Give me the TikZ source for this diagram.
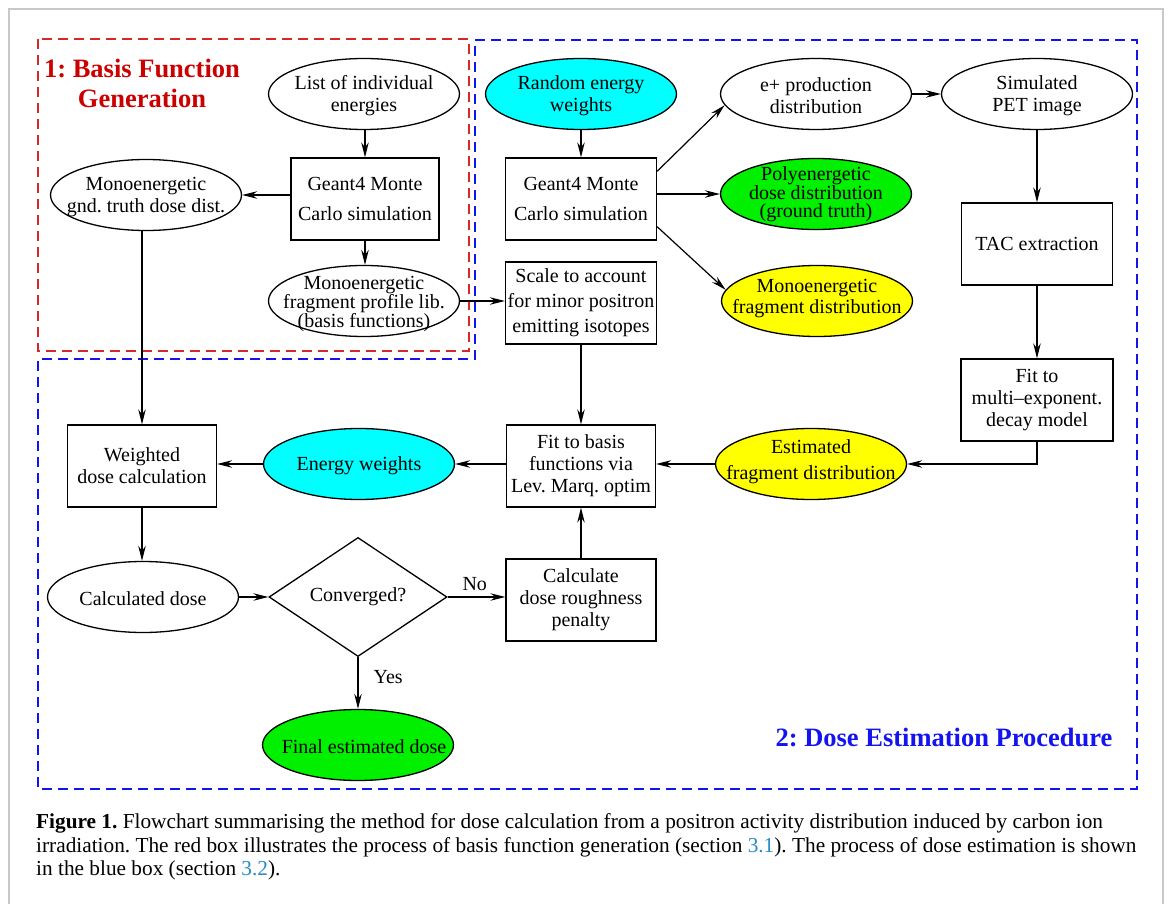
\documentclass[tikz,border=0pt]{standalone}
\usepackage{fontspec}
\setmainfont{Liberation Serif}
\usetikzlibrary{shapes.geometric,arrows.meta,calc}
\definecolor{titlered}{RGB}{204,0,0}
\definecolor{boxred}{RGB}{214,40,40}
\definecolor{boxblue}{RGB}{20,20,240}
\definecolor{linkblue}{RGB}{40,140,200}
\definecolor{framegray}{RGB}{200,200,200}
\definecolor{fcyan}{RGB}{0,255,255}
\definecolor{fgreen}{RGB}{0,240,0}
\definecolor{fyellow}{RGB}{255,255,0}
\frenchspacing
\begin{document}
\begin{tikzpicture}[x=1pt,y=-1pt,
  every node/.style={inner sep=0pt},
  base/.style={draw=black, line width=1.3pt},
  ell/.style={base, ellipse, minimum width=191pt, minimum height=71pt},
  rbox/.style={base, rectangle, minimum width=151pt, minimum height=82pt, align=center, font=\fontsize{20}{22}\selectfont},
  tx/.style={align=center, font=\fontsize{20}{22}\selectfont},
  arr/.style={line width=1.2pt, -{Stealth[length=15pt,width=7.5pt,inset=5pt]}},
  redbox/.style={draw=boxred, line width=1.5pt, dash pattern=on 10pt off 6pt},
  bluebox/.style={draw=boxblue, line width=1.5pt, dash pattern=on 10pt off 6pt},
  ttl/.style={align=center, font=\fontsize{26.5}{30}\selectfont\bfseries},
  captxt/.style={anchor=base west, font=\fontsize{21.3}{23.5}\selectfont},
  lbl/.style={font=\fontsize{20}{22}\selectfont}
]
\useasboundingbox (0,0) rectangle (1171,904);
\fill[white] (0,0) rectangle (1171,904);
\draw[framegray, line width=2pt] (9,910) -- (9,9) -- (1163,9) -- (1163,910);

% group boxes
\draw[redbox] (38,39) rectangle (469,351);
\draw[bluebox] (475,40) -- (1137,40) -- (1137,789) -- (38,789) -- (38,359) -- (475,359) -- cycle;

% titles
\node[ttl, text=titlered] (t1) at (142,83) {1: Basis Function\\Generation};
\node[ttl, text=boxblue] (t2) at (944,737) {2: Dose Estimation Procedure};

% part 1
\node[ell] (le) at (364,94) {};
\node[tx] (le-t) at (364,96) {List of individual\\energies};
\node[rbox, minimum width=148pt, font=\fontsize{20}{30}\selectfont] (g1) at (365,199) {Geant4 Monte\\Carlo simulation};
\node[ell] (gt) at (146,195) {};
\node[tx] (gt-t) at (146,197) {Monoenergetic\\gnd. truth dose dist.};
\node[ell] (fl) at (364,301) {};
\node[tx, font=\fontsize{20}{18}\selectfont] (fl-t) at (364,304) {Monoenergetic\\fragment profile lib.\\(basis functions)};

% part 2, top
\node[ell, fill=fcyan] (rw) at (581,94) {};
\node[tx] (rw-t) at (581,96) {Random energy\\weights};
\node[rbox, font=\fontsize{20}{30}\selectfont] (g2) at (581,199) {Geant4 Monte\\Carlo simulation};
\node[ell] (ep) at (816,94) {};
\node[tx] (ep-t) at (816,96) {e+ production\\distribution};
\node[ell] (sp) at (1037,94) {};
\node[tx] (sp-t) at (1037,96) {Simulated\\PET image};
\node[ell, fill=fgreen] (pd) at (816,194) {};
\node[tx, font=\fontsize{20}{18}\selectfont] (pd-t) at (816,194) {Polyenergetic\\dose distribution\\(ground truth)};
\node[ell, fill=fyellow] (mf) at (817,301) {};
\node[tx, font=\fontsize{20}{21}\selectfont] (mf-t) at (817,299) {Monoenergetic\\fragment distribution};
\node[rbox, font=\fontsize{20}{25}\selectfont] (sc) at (581,303) {Scale to account\\for minor positron\\emitting isotopes};
\node[rbox] (tac) at (1037,244) {TAC extraction};
\node[rbox, minimum width=152pt] (fm) at (1037,400) {Fit to\\multi\textendash exponent.\\decay model};

% part 2, middle
\node[ell, fill=fyellow] (ef) at (811,464) {};
\node[tx, font=\fontsize{20}{26}\selectfont] (ef-t) at (811,462) {Estimated\\fragment distribution};
\node[rbox, minimum width=149pt] (fb) at (581,466) {Fit to basis\\functions via\\Lev. Marq. optim};
\node[ell, fill=fcyan] (ew) at (359,464) {};
\node[tx] (ew-t) at (359,466) {Energy weights};
\node[rbox, minimum width=149pt] (wd) at (142,466) {Weighted\\dose calculation};

% part 2, bottom
\node[ell] (cd) at (143,597) {};
\node[tx] (cd-t) at (143,599) {Calculated dose};
\node[base, diamond, minimum width=178pt, minimum height=119pt, aspect=1.5, font=\fontsize{20}{22}\selectfont] (cv) at (358,597) {Converged?};
\node[rbox, minimum width=150pt] (cr) at (581,600) {Calculate\\dose roughness\\penalty};
\node[ell, fill=fgreen] (fe) at (358,745) {};
\node[tx] (fe-t) at (364,747) {Final estimated dose};

% connectors
\draw[arr] (le.south -| g1.north) -- (g1.north);
\draw[arr] (g1.west |- gt.east) -- (gt.east);
\draw[arr] (g1.south) -- (fl.north -| g1.south);
\draw[arr] (fl.east) -- (fl.east -| sc.west);
\draw[arr] (rw.south) -- (g2.north);
\draw[arr] (g2.20) -- (ep.187);
\draw[arr] (g2.east |- pd.west) -- (pd.west);
\draw[arr] (g2.-20) -- (mf.173);
\draw[arr] (ep.east) -- (sp.west);
\draw[arr] (sp.south) -- (tac.north);
\draw[arr] (tac.south) -- (fm.north);
\draw[arr] (fm.south) |- (ef.east);
\draw[arr] (ef.west) -- (ef.west -| fb.east);
\draw[arr] (sc.south) -- (fb.north);
\draw[arr] (fb.west |- ew.east) -- (ew.east);
\draw[arr] (ew.west) -- (ew.west -| wd.east);
\draw[arr] (gt.south -| wd.north) -- (wd.north);
\draw[arr] (wd.south) -- (cd.north -| wd.south);
\draw[arr] (cd.east) -- (cv.west);
\draw[arr] (cv.east) -- (cv.east -| cr.west) node[lbl, pos=0.47, above=6pt] (no) {No};
\draw[arr] (cv.south) -- (fe.north) node[lbl, pos=0.38, right=15pt] (yes) {Yes};
\draw[arr] (cr.north) -- (fb.south);

% caption
\node[captxt] (cap1) at (36,828) {\textbf{Figure 1.} Flowchart summarising the method for dose calculation from a positron activity distribution induced by carbon ion};
\node[captxt] (cap2) at (36,852) {irradiation. The red box illustrates the process of basis function generation (section \textcolor{linkblue}{3.1}). The process of dose estimation is shown};
\node[captxt] (cap3) at (36,875) {in the blue box (section \textcolor{linkblue}{3.2}).};
\end{tikzpicture}
\end{document}
